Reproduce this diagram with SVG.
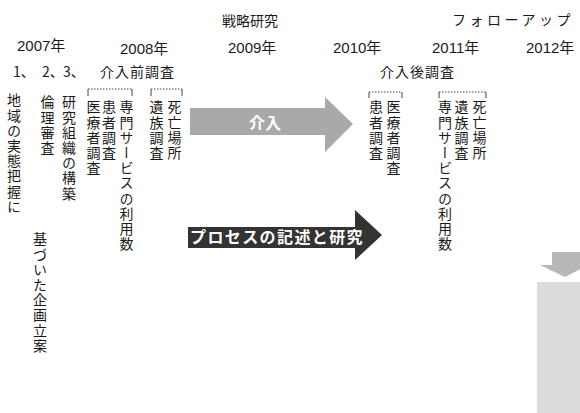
<svg xmlns="http://www.w3.org/2000/svg" width="580" height="413" viewBox="0 0 580 413">
<style>
.t{font-family:"Noto Sans CJK JP","Liberation Sans",sans-serif;font-size:14px;fill:#1a1a1a}
.y{font-family:"Liberation Sans","Noto Sans CJK JP",sans-serif;font-size:15px;fill:#1a1a1a}
.v{font-family:"Noto Sans CJK JP",sans-serif;font-size:14px;fill:#1a1a1a;writing-mode:vertical-rl;letter-spacing:1.2px}
.br{fill:none;stroke:#444;stroke-width:1;stroke-dasharray:1.5 1.5}
.brs{fill:none;stroke:#444;stroke-width:1}
</style>
<rect width="580" height="413" fill="#fff"/>
<g id="headers">
<text class="t" x="222" y="26">戦略研究</text>
<text class="t" x="452" y="25" letter-spacing="3.5">フォローアップ</text>
<text class="y" x="17" y="51">2007年</text>
<text class="y" x="120" y="54">2008年</text>
<text class="y" x="228" y="53">2009年</text>
<text class="y" x="333" y="53">2010年</text>
<text class="y" x="432" y="53">2011年</text>
<text class="y" x="526" y="53">2012年</text>
<text class="t" x="13" y="77">1、</text>
<text class="t" x="42" y="77">2、</text>
<text class="t" x="63" y="77">3、</text>
<text class="t" x="100" y="77" letter-spacing="1">介入前調査</text>
<text class="t" x="380" y="77" letter-spacing="1">介入後調査</text>
</g>
<g id="n2007">
<text class="v" x="14" y="93" letter-spacing="2">地域の実態把握に</text>
<text class="v" x="40" y="232" letter-spacing="1.8">基づいた企画立案</text>
<text class="v" x="47.5" y="95">倫理審査</text>
<text class="v" x="69" y="95">研究組織の構築</text>
</g>
<g id="pre">
<path class="br" d="M88 89H132"/><path class="brs" d="M88 89V96M132 89V96"/>
<text class="v" x="93.5" y="100">医療者調査</text>
<text class="v" x="109" y="100">患者調査</text>
<text class="v" x="126.5" y="100">専門サービスの利用数</text>
<path class="br" d="M151 89H182"/><path class="brs" d="M151 89V96M182 89V96"/>
<text class="v" x="156.5" y="100">遺族調査</text>
<text class="v" x="174.5" y="100">死亡場所</text>
</g>
<g id="post">
<path class="br" d="M369 92H402"/><path class="brs" d="M369 92V98M402 92V98"/>
<text class="v" x="376" y="100">患者調査</text>
<text class="v" x="393.5" y="100">医療者調査</text>
<path class="br" d="M439 92H486"/><path class="brs" d="M439 92V98M486 92V98"/>
<text class="v" x="445" y="100">専門サービスの利用数</text>
<text class="v" x="461.5" y="100">遺族調査</text>
<text class="v" x="479.5" y="100">死亡場所</text>
</g>
<g id="connectors">
<g id="arrow-intervention">
<path d="M190 108H325V97L353 124L325 152V135H190Z" fill="#a9a9a9"/>
<text x="265" y="129" text-anchor="middle" font-family="Noto Sans CJK JP,sans-serif" font-size="16" font-weight="bold" fill="#fff">介入</text>
</g>
<g id="arrow-process">
<path d="M188 227H355V210L382 235L355 260V248H188Z" fill="#333"/>
<text x="190" y="243" font-family="Noto Sans CJK JP,sans-serif" font-size="16" font-weight="bold" fill="#fff" letter-spacing="1.4">プロセスの記述と研究</text>
</g>
<g id="arrow-down">
<path d="M552 252H580V265H588L565 277L540 265H552Z" fill="#b8b8b8"/>
</g>
</g>
<g id="followup">
<rect x="537" y="282" width="48" height="140" fill="#dcdcdc"/>
</g>
</svg>
